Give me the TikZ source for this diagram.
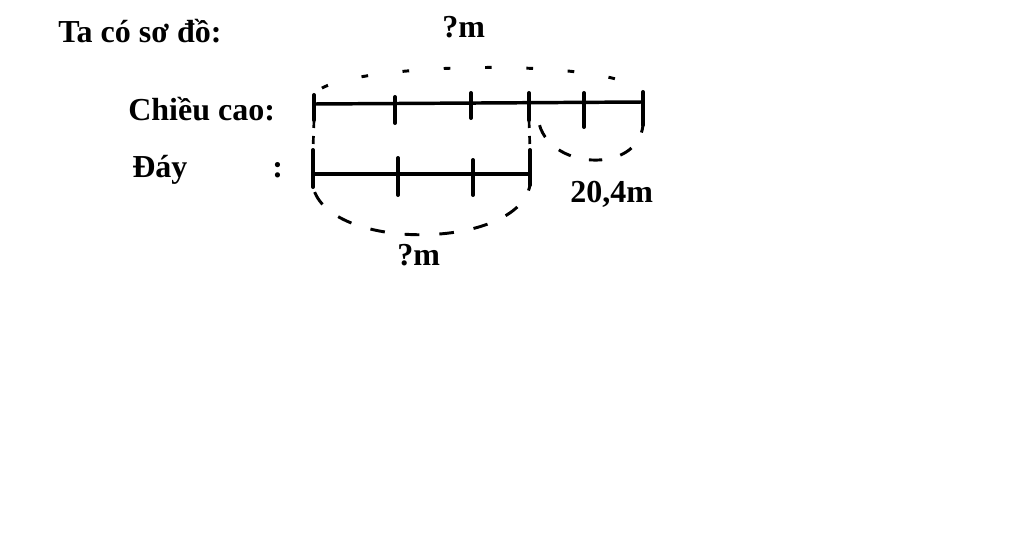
\documentclass[tikz,border=0pt]{standalone}
\usepackage{fontspec}
\setmainfont{Liberation Serif}
\usetikzlibrary{positioning}

\begin{document}
\begin{tikzpicture}[x=0.75pt,y=-0.75pt,
    every node/.style={font=\fontsize{24}{28}\selectfont\bfseries,inner sep=0pt,anchor=base west},
    segment/.style={line width=2.6pt},
    tick/.style={line width=3pt,line cap=round},
    brace/.style={line width=2.2pt,dash pattern=on 11pt off 15pt,dash phase=-4pt},
    guide/.style={line width=2pt,dash pattern=on 6pt off 6pt}
]
\useasboundingbox (0,0) rectangle (1024,560);

% Labels
\node (title) at (58,43) {Ta có sơ đồ:};
\node (cao) at (128,120) {Chiều cao:};
\node (day) at (132,177) {Đáy};
\node (colon) at (272,177) {:};

% Chieu cao segment
\foreach \name/\x/\top/\bot in {h0/314/95/120,h1/395/97/123,h2/471/93/118,h3/529/93/120,h4/584/93/127,h5/643/92/125}{
    \coordinate (\name t) at (\x,\top);
    \coordinate (\name b) at (\x,\bot);
    \draw[tick] (\name t) -- (\name b);
}
\draw[segment] (314,104) -- (643,102);

% Day segment
\foreach \name/\x/\top/\bot in {d0/313/150/187,d1/398/158/195,d2/473/160/195,d3/530/150/185}{
    \coordinate (\name t) at (\x,\top);
    \coordinate (\name b) at (\x,\bot);
    \draw[tick] (\name t) -- (\name b);
}
\draw[segment] (313,174) -- (530,174);

% Guides
\draw[guide] (h0b) -- (d0t);
\draw[guide] (h3b) -- (d3t);

% Braces
\draw[brace,dash pattern=on 5pt off 26pt,dash phase=-8pt] (h0t) .. controls +(15,-32) and +(-33,-37) .. (h5t);
\draw[brace] (d0b) .. controls +(16,65) and +(-12,65) .. (d3b);
\draw[brace,dash pattern=on 10pt off 14pt] ([xshift=7pt]h3b) .. controls +(8,50) and +(-5,50) .. (h5b);

% Brace labels
\node (tong) at (442,38) {?m};
\node (hieu) at (570,202) {20,4m};
\node (daym) at (397,265) {?m};

\end{tikzpicture}
\end{document}
